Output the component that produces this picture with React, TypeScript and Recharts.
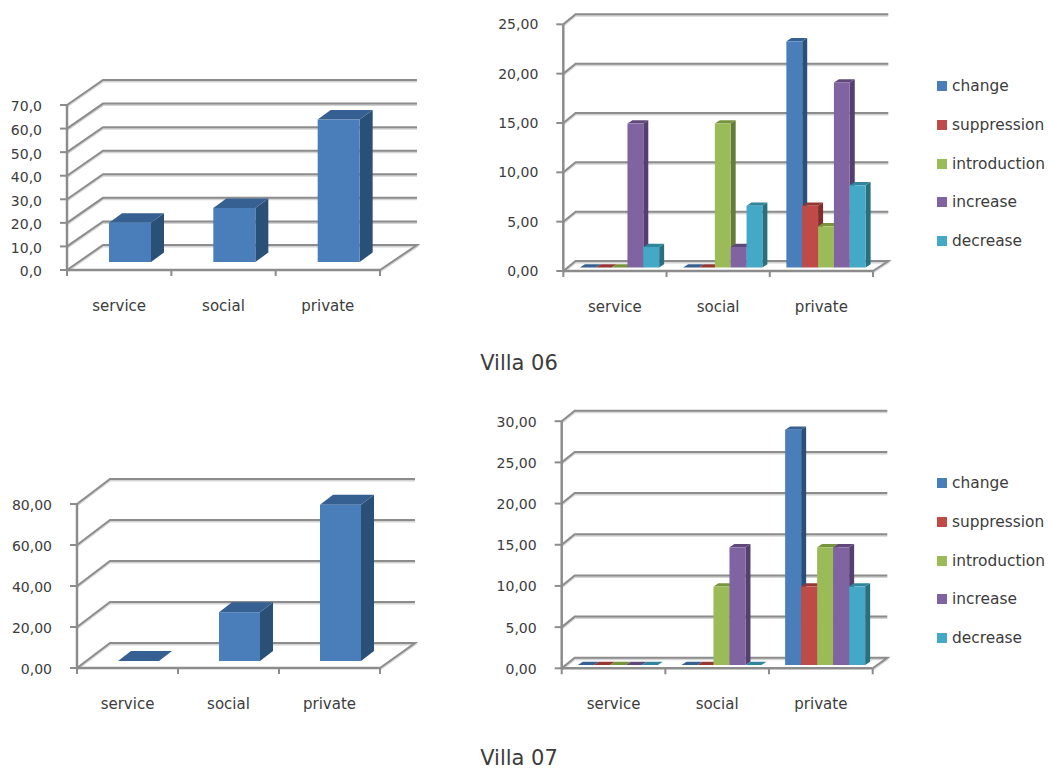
import { BarChart, Bar, XAxis, YAxis, CartesianGrid, Legend } from 'recharts'

const FONT = '"DejaVu Sans", Verdana, sans-serif'
const AXIS_GRAY = '#8c8c8c'
const TEXT = '#3c3c3c'

const categories = ['service', 'social', 'private']
const seriesNames = ['change', 'suppression', 'introduction', 'increase', 'decrease']

// Villa 06
const villa06Total = [16.67, 22.92, 60.42]
const villa06Change = [0, 0, 22.92]
const villa06Suppression = [0, 0, 6.25]
const villa06Introduction = [0, 14.58, 4.17]
const villa06Increase = [14.58, 2.08, 18.75]
const villa06Decrease = [2.08, 6.25, 8.33]
const villa06TotalTicks = [0, 10, 20, 30, 40, 50, 60, 70]
const villa06DetailTicks = [0, 5, 10, 15, 20, 25]

// Villa 07
const villa07Total = [0, 23.81, 76.19]
const villa07Change = [0, 0, 28.57]
const villa07Suppression = [0, 0, 9.52]
const villa07Introduction = [0, 9.52, 14.29]
const villa07Increase = [0, 14.29, 14.29]
const villa07Decrease = [0, 0, 9.52]
const villa07TotalTicks = [0, 20, 40, 60, 80]
const villa07DetailTicks = [0, 5, 10, 15, 20, 25, 30]

// front, side, top face of each extruded bar
const FACES: Record<string, [string, string, string]> = {
  total: ['#4a7ebb', '#2a5078', '#376092'],
  change: ['#4a7ebb', '#2a5078', '#376092'],
  suppression: ['#be4b48', '#7f2e2c', '#953735'],
  introduction: ['#9bbb59', '#667d38', '#77933c'],
  increase: ['#8064a2', '#533f70', '#60497a'],
  decrease: ['#43a9c6', '#29707f', '#31859c'],
}

function buildRows(keys: string[], columns: number[][]) {
  return categories.map((category, i) => {
    const row: Record<string, number | string> = { category }
    keys.forEach((k, j) => {
      row[k] = columns[j][i]
    })
    return row
  })
}

type Depth = { shiftX: number; shiftY: number; sideX: number; sideY: number }

function extruded(faces: [string, string, string], d: Depth) {
  return (props: any) => {
    const x = props.x + d.shiftX
    const y = props.y + d.shiftY
    const w = props.width
    const h = props.height
    const [front, side, top] = faces
    return (
      <g>
        <path
          d={`M${x + w} ${y}l${d.sideX} ${-d.sideY}v${h}l${-d.sideX} ${d.sideY}z`}
          fill={side}
        />
        <path
          d={`M${x} ${y}l${d.sideX} ${-d.sideY}h${w}l${-d.sideX} ${d.sideY}z`}
          fill={top}
        />
        <rect x={x} y={y} width={w} height={h} fill={front} />
      </g>
    )
  }
}

function SideLegend({ payload }: any) {
  return (
    <div style={{ fontFamily: FONT, fontSize: 15.4, color: TEXT }}>
      {(payload || []).map((item: any) => (
        <div key={item.value} style={{ display: 'flex', alignItems: 'center', height: 38.8 }}>
          <span
            style={{ width: 10, height: 10, background: item.color, marginRight: 5, flex: 'none' }}
          />
          <span style={{ whiteSpace: 'nowrap' }}>{item.value}</span>
        </div>
      ))}
    </div>
  )
}

type PanelProps = {
  box: { left: number; top: number; width: number; height: number }
  plot: { x0: number; x1: number; y0: number; y1: number }
  wall: { dx: number; dy: number; right: number }
  depth: Depth
  barSize: number
  rows: Record<string, number | string>[]
  keys: string[]
  ticks: number[]
  decimals: number
  tickDy: number
  legendAt?: { left: number; top: number }
}

function Panel({ box, plot, wall, depth, barSize, rows, keys, ticks, decimals, tickDy, legendAt }: PanelProps) {
  const band = (plot.x1 - plot.x0) / categories.length
  const axisY = plot.y0 - box.top

  // each horizontal grid value runs up the side wall and along the back wall
  const wallLine = (p: any) => {
    const isFloor = Math.abs(p.y1 - axisY) < 0.5
    const back = p.y1 - wall.dy
    const d =
      `M${p.x1} ${p.y1}L${p.x1 + wall.dx} ${back}L${wall.right - box.left} ${back}` +
      (isFloor ? `L${p.x2} ${p.y2}` : '')
    return (
      <g key={p.index}>
        <path d={d} fill="none" stroke="#d4d4d4" strokeWidth={2} transform="translate(0 1.5)" />
        <path d={d} fill="none" stroke={AXIS_GRAY} strokeWidth={2} />
      </g>
    )
  }

  const categoryTick = ({ x, payload, index }: any) => (
    <g>
      {index === 0 && (
        <line x1={x - band / 2} x2={x - band / 2} y1={axisY} y2={axisY + 6} stroke={AXIS_GRAY} strokeWidth={2} />
      )}
      <line x1={x + band / 2} x2={x + band / 2} y1={axisY} y2={axisY + 6} stroke={AXIS_GRAY} strokeWidth={2} />
      <text x={x} y={axisY + 40.5} textAnchor="middle" fontFamily={FONT} fontSize={15} fill={TEXT}>
        {payload.value}
      </text>
    </g>
  )

  return (
    <div style={{ position: 'absolute', left: box.left, top: box.top }}>
      <BarChart
        width={box.width}
        height={box.height}
        data={rows}
        barGap={0}
        barSize={barSize}
        margin={{
          top: plot.y1 - box.top,
          right: box.left + box.width - plot.x1,
          bottom: box.top + box.height - plot.y0 - 30,
          left: 0,
        }}
      >
        <CartesianGrid vertical={false} horizontal={wallLine} />
        <XAxis
          dataKey="category"
          height={30}
          tickLine={false}
          interval={0}
          tick={categoryTick}
          axisLine={{ stroke: AXIS_GRAY, strokeWidth: 2.5 }}
        />
        <YAxis
          width={plot.x0 - box.left}
          domain={[ticks[0], ticks[ticks.length - 1]]}
          ticks={ticks}
          interval={0}
          tickSize={7}
          tickMargin={18}
          tickFormatter={(v: number) => v.toFixed(decimals).replace('.', ',')}
          tick={{ fontFamily: FONT, fontSize: 14, fill: TEXT, dy: tickDy }}
          tickLine={{ stroke: AXIS_GRAY, strokeWidth: 2 }}
          axisLine={{ stroke: AXIS_GRAY, strokeWidth: 2.5 }}
        />
        {keys.map((k) => (
          <Bar
            key={k}
            dataKey={k}
            name={k}
            fill={FACES[k][0]}
            isAnimationActive={false}
            shape={extruded(FACES[k], depth)}
          />
        ))}
        {legendAt && (
          <Legend
            layout="vertical"
            align="center"
            verticalAlign="middle"
            itemSorter={null}
            wrapperStyle={{ left: legendAt.left, top: legendAt.top, width: 112, margin: 0 }}
            content={<SideLegend />}
          />
        )}
      </BarChart>
    </div>
  )
}

const captionStyle = {
  position: 'absolute' as const,
  left: 0,
  width: 1038,
  height: 20,
  lineHeight: '20px',
  textAlign: 'center' as const,
  fontFamily: FONT,
  fontSize: 21,
  color: TEXT,
}

export default function App() {
  return (
    <div style={{ position: 'absolute', left: 0, top: 0, width: 1048, height: 770, background: '#fff', overflow: 'hidden' }}>
      <Panel
        box={{ left: 0, top: 40, width: 440, height: 290 }}
        plot={{ x0: 67, x1: 380, y0: 270, y1: 105 }}
        wall={{ dx: 36, dy: 25, right: 417 }}
        depth={{ shiftX: 11, shiftY: -8, sideX: 13, sideY: 9.5 }}
        barSize={42}
        rows={buildRows(['total'], [villa06Total])}
        keys={['total']}
        ticks={villa06TotalTicks}
        decimals={1}
        tickDy={1.5}
      />
      <Panel
        box={{ left: 480, top: 0, width: 568, height: 330 }}
        plot={{ x0: 563.3, x1: 873, y0: 271, y1: 24.3 }}
        wall={{ dx: 12.3, dy: 10, right: 888.3 }}
        depth={{ shiftX: 4.6, shiftY: -3.5, sideX: 5, sideY: 3.3 }}
        barSize={15.85}
        rows={buildRows(seriesNames, [
          villa06Change,
          villa06Suppression,
          villa06Introduction,
          villa06Increase,
          villa06Decrease,
        ])}
        keys={seriesNames}
        ticks={villa06DetailTicks}
        decimals={2}
        tickDy={0}
        legendAt={{ left: 457, top: 66.6 }}
      />
      <div style={{ ...captionStyle, top: 353 }}>Villa 06</div>
      <Panel
        box={{ left: 0, top: 440, width: 440, height: 290 }}
        plot={{ x0: 77, x1: 380, y0: 668, y1: 504 }}
        wall={{ dx: 33, dy: 25, right: 415 }}
        depth={{ shiftX: 11, shiftY: -7, sideX: 13, sideY: 10 }}
        barSize={41}
        rows={buildRows(['total'], [villa07Total])}
        keys={['total']}
        ticks={villa07TotalTicks}
        decimals={2}
        tickDy={1.5}
      />
      <Panel
        box={{ left: 480, top: 400, width: 568, height: 330 }}
        plot={{ x0: 561.7, x1: 872.7, y0: 668.3, y1: 421.2 }}
        wall={{ dx: 13, dy: 10.5, right: 887.3 }}
        depth={{ shiftX: 4.1, shiftY: -3.3, sideX: 5, sideY: 3.3 }}
        barSize={16}
        rows={buildRows(seriesNames, [
          villa07Change,
          villa07Suppression,
          villa07Introduction,
          villa07Increase,
          villa07Decrease,
        ])}
        keys={seriesNames}
        ticks={villa07DetailTicks}
        decimals={2}
        tickDy={0.5}
        legendAt={{ left: 457, top: 63.6 }}
      />
      <div style={{ ...captionStyle, top: 747.5 }}>Villa 07</div>
    </div>
  )
}
